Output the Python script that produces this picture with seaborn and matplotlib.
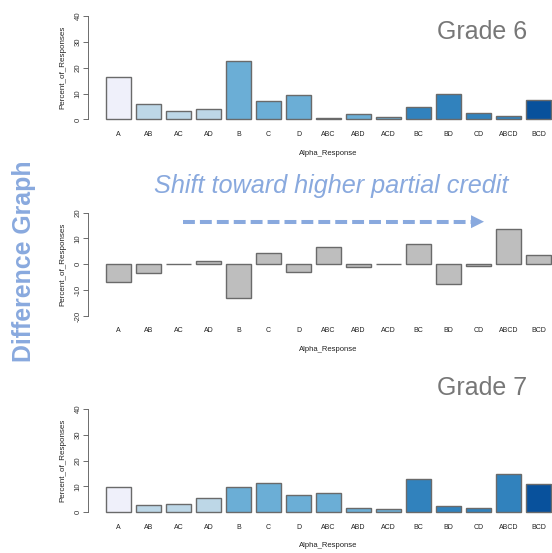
import matplotlib
matplotlib.use("Agg")
import matplotlib.pyplot as plt
from matplotlib.lines import Line2D
from matplotlib.patches import Polygon
import seaborn as sns
import pandas as pd

# ---------------- data ----------------
categories = ["A", "AB", "AC", "AD", "B", "C", "D", "ABC", "ABD", "ACD",
              "BC", "BD", "CD", "ABCD", "BCD"]
grade6 = [16.3, 6.1, 3.2, 4.2, 22.6, 7.0, 9.6, 0.7, 2.2, 1.0,
          4.8, 10.0, 2.5, 1.2, 7.4]
grade7 = [9.6, 2.7, 3.3, 5.4, 9.6, 11.3, 6.8, 7.6, 1.5, 1.3,
          12.7, 2.4, 1.8, 14.8, 11.0]
difference = [-6.8, -3.5, 0.1, 1.2, -13.1, 4.3, -2.9, 6.8, -0.9, 0.2,
              7.8, -7.8, -0.8, 13.6, 3.5]
grade_ticks = [0, 10, 20, 30, 40]
diff_ticks = [-20, -10, 0, 10, 20]

# ---------------- styles ----------------
blues = ["#EFF0FA", "#BDD7E7", "#6BAED6", "#3182BD", "#08519C"]
color_class = [0, 1, 1, 1, 2, 2, 2, 2, 2, 2, 3, 3, 3, 3, 4]
bar_colors = [blues[c] for c in color_class]
accent = "#89A9DE"

sns.set_theme(style="white")
plt.rcParams["font.family"] = ["Liberation Sans", "DejaVu Sans"]

W, H = 552, 553
fig = plt.figure(figsize=(W / 100, H / 100), dpi=100)


def px_axes(left, right, top, bottom):
    return fig.add_axes([left / W, 1 - bottom / H, (right - left) / W, (bottom - top) / H])


def style_axes(ax, ticks, lo, hi):
    ax.set_xlim(-1.01, 15.01)
    ax.set_ylim(lo - 0.04 * (hi - lo), hi + 0.04 * (hi - lo))
    for s in ["top", "right", "bottom"]:
        ax.spines[s].set_visible(False)
    ax.spines["left"].set_bounds(lo, hi)
    ax.spines["left"].set_color("#555555")
    ax.spines["left"].set_linewidth(0.6)
    ax.set_yticks(ticks)
    ax.set_yticklabels([str(t) for t in ticks], rotation=90, va="center")
    ax.tick_params(axis="y", length=3.3, width=0.6, color="#555555", pad=1.5,
                   labelsize=5.6, labelcolor="#333333", left=True)
    ax.tick_params(axis="x", length=0, pad=5.2, labelsize=5.0, labelcolor="#222222")
    ax.set_ylabel("Percent_of_Responses", fontsize=5.8, color="#222222", labelpad=6)
    ax.set_xlabel("Alpha_Response", fontsize=5.5, color="#222222", labelpad=8.5)
    ax.xaxis.label.set_x((328.5 - 88.2) / (568.8 - 88.2))
    ax.grid(False)


def grade_panel(values, top, bottom):
    ax = px_axes(88.2, 568.8, top, bottom)
    df = pd.DataFrame({"Alpha_Response": categories, "Percent_of_Responses": values})
    sns.barplot(data=df, x="Alpha_Response", y="Percent_of_Responses",
                hue="Alpha_Response", order=categories, hue_order=categories,
                palette=bar_colors, legend=False, width=0.833,
                edgecolor="#6a6a6a", linewidth=1.0, saturation=1, ax=ax)
    style_axes(ax, grade_ticks, 0, 40)
    return ax


# Grade 6
grade_panel(grade6, 11.9, 123.6)

# Difference
axd = px_axes(88.2, 568.8, 208.5, 320.1)
dfd = pd.DataFrame({"Alpha_Response": categories, "Percent_of_Responses": difference})
sns.barplot(data=dfd, x="Alpha_Response", y="Percent_of_Responses", order=categories,
            color="#BEBEBE", width=0.833, edgecolor="#6a6a6a", linewidth=1.0,
            saturation=1, ax=axd)
style_axes(axd, diff_ticks, -20, 20)

# Grade 7
grade_panel(grade7, 404.6, 516.4)

# ---------------- annotations ----------------
fig.text(482 / W, 1 - 32 / H, "Grade 6", fontsize=18, color="#777777",
         ha="center", va="center")
fig.text(482 / W, 1 - 388 / H, "Grade 7", fontsize=18, color="#777777",
         ha="center", va="center")
fig.text(24 / W, 1 - 261 / H, "Difference Graph", fontsize=17.9, color=accent,
         fontweight="bold", rotation=90, ha="center", va="center")
fig.text(331 / W, 1 - 186 / H, "Shift toward higher partial credit", fontsize=18.2,
         color=accent, style="italic", ha="center", va="center")

ya = 1 - 221.7 / H
fig.add_artist(Line2D([183 / W, 471 / W], [ya, ya], transform=fig.transFigure,
                      color=accent, lw=2.9, linestyle=(0, (2.95, 1.25)),
                      solid_capstyle="butt", dash_capstyle="butt"))
fig.add_artist(Polygon([[471 / W, ya + 6.5 / H], [484 / W, ya], [471 / W, ya - 6.5 / H]],
                       closed=True, transform=fig.transFigure, facecolor=accent,
                       edgecolor="none"))

fig.savefig("out.png", dpi=100)
